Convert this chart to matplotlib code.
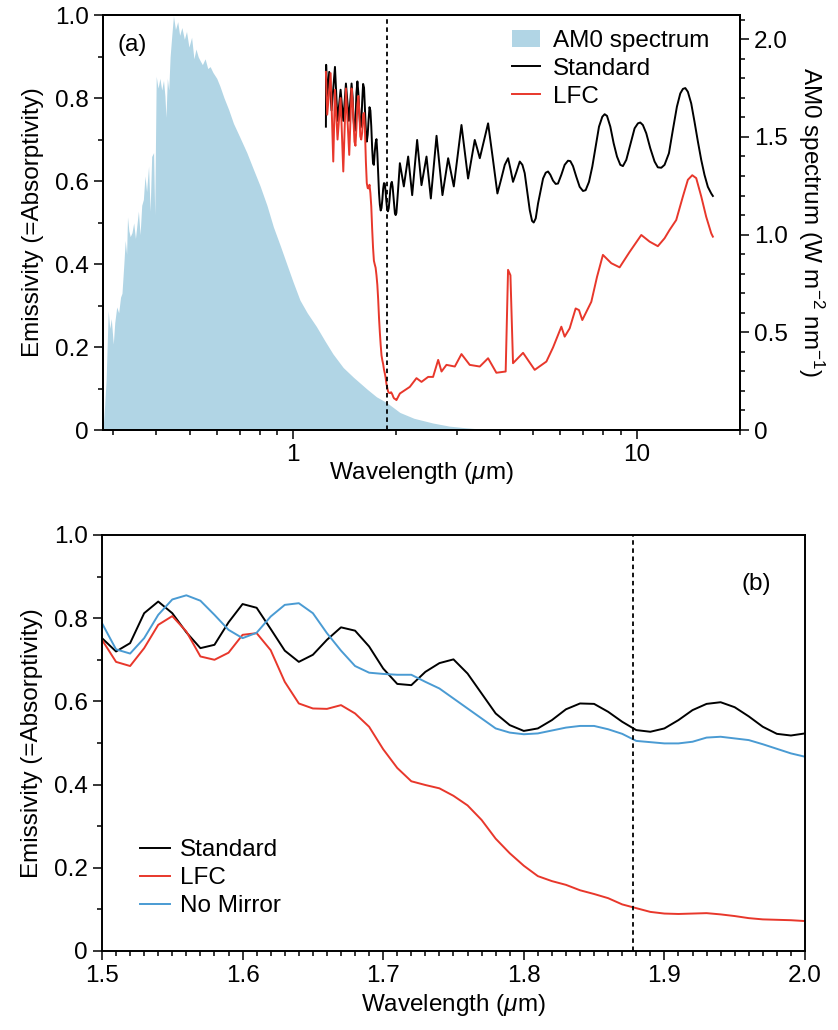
import numpy as np
import matplotlib
matplotlib.use('Agg')
import matplotlib.pyplot as plt
from matplotlib.ticker import MultipleLocator, LogLocator, NullFormatter, FuncFormatter

plt.rcParams['font.family'] = ['Liberation Sans', 'DejaVu Sans']
plt.rcParams['mathtext.fontset'] = 'custom'
plt.rcParams['mathtext.rm'] = 'Liberation Sans'
plt.rcParams['mathtext.it'] = 'Liberation Sans:italic'
plt.rcParams['font.size'] = 17.5

# AM0 solar spectrum (W m-2 nm-1)
am0_wl = [0.280, 0.283, 0.286, 0.290, 0.293, 0.296, 0.300, 0.303, 0.307, 0.311,
          0.315, 0.318, 0.322, 0.325, 0.328, 0.330, 0.333, 0.336, 0.340, 0.344,
          0.348, 0.351, 0.355, 0.359, 0.363, 0.367, 0.371, 0.375, 0.380, 0.384,
          0.388, 0.393, 0.396, 0.400, 0.405, 0.410, 0.415, 0.420, 0.424, 0.427,
          0.431, 0.435, 0.439, 0.444, 0.449, 0.455, 0.462, 0.468, 0.475, 0.483,
          0.490, 0.498, 0.507, 0.515, 0.522, 0.530, 0.537, 0.545, 0.555, 0.565,
          0.574, 0.585, 0.600, 0.613, 0.630, 0.650, 0.671, 0.700, 0.734, 0.765,
          0.802, 0.840, 0.877, 0.920, 0.959, 1.00, 1.048, 1.10, 1.17, 1.24,
          1.307, 1.40, 1.50, 1.641, 1.75, 1.876, 2.047, 2.25, 2.552, 2.85,
          3.20, 3.6, 4.0]
am0_val = [0.00, 0.12, 0.26, 0.61, 0.52, 0.57, 0.44, 0.55, 0.63, 0.60,
           0.68, 0.70, 0.85, 0.97, 0.90, 1.09, 1.02, 0.99, 1.01, 1.06,
           0.98, 1.04, 1.12, 1.00, 1.15, 1.18, 1.30, 1.22, 1.35, 1.12,
           1.40, 1.42, 1.10, 1.81, 1.75, 1.80, 1.74, 1.79, 1.71, 1.60,
           1.80, 1.74, 1.91, 2.02, 2.12, 2.05, 2.09, 2.02, 2.06, 2.00,
           2.04, 1.96, 2.01, 1.90, 1.95, 1.91, 1.89, 1.87, 1.90, 1.85,
           1.86, 1.83, 1.80, 1.76, 1.70, 1.64, 1.57, 1.50, 1.42, 1.34,
           1.25, 1.15, 1.04, 0.94, 0.85, 0.76, 0.665, 0.60, 0.53, 0.455,
           0.39, 0.32, 0.27, 0.21, 0.17, 0.14, 0.09, 0.06, 0.036, 0.02,
           0.011, 0.004, 0.0]

# emissivity, 1.25-1.5 um (panel a)
std_wl_short = [1.247, 1.249, 1.258, 1.275, 1.295, 1.325, 1.348, 1.376, 1.401,
                1.426, 1.455, 1.481, 1.492]
std_short = [0.731, 0.880, 0.800, 0.863, 0.770, 0.875, 0.745, 0.820, 0.745,
             0.835, 0.745, 0.835, 0.800]
lfc_wl_short = [1.247, 1.258, 1.287, 1.310, 1.325, 1.348, 1.376, 1.401,
                1.426, 1.458, 1.481, 1.492]
lfc_short = [0.863, 0.760, 0.860, 0.647, 0.820, 0.700, 0.800, 0.623,
             0.823, 0.663, 0.823, 0.790]

# emissivity, 1.5-2.0 um (panel b)
wl_b = [1.50, 1.51, 1.52, 1.53, 1.54, 1.55, 1.56, 1.57, 1.58, 1.59,
        1.60, 1.61, 1.62, 1.63, 1.64, 1.65, 1.66, 1.67, 1.68, 1.69,
        1.70, 1.71, 1.72, 1.73, 1.74, 1.75, 1.76, 1.77, 1.78, 1.79,
        1.80, 1.81, 1.82, 1.83, 1.84, 1.85, 1.86, 1.87, 1.88, 1.89,
        1.90, 1.91, 1.92, 1.93, 1.94, 1.95, 1.96, 1.97, 1.98, 1.99, 2.00]
std_b = [0.752, 0.720, 0.740, 0.812, 0.840, 0.812, 0.766, 0.728, 0.736, 0.790,
         0.834, 0.825, 0.774, 0.722, 0.695, 0.712, 0.748, 0.778, 0.770, 0.732,
         0.679, 0.642, 0.639, 0.671, 0.692, 0.701, 0.667, 0.619, 0.571, 0.543,
         0.529, 0.535, 0.555, 0.581, 0.595, 0.594, 0.575, 0.551, 0.531, 0.527,
         0.535, 0.555, 0.579, 0.594, 0.598, 0.586, 0.564, 0.539, 0.522, 0.518, 0.523]
lfc_b = [0.748, 0.695, 0.685, 0.728, 0.784, 0.805, 0.768, 0.708, 0.700, 0.717,
         0.760, 0.764, 0.723, 0.647, 0.595, 0.583, 0.582, 0.591, 0.571, 0.539,
         0.485, 0.440, 0.408, 0.399, 0.391, 0.373, 0.350, 0.315, 0.270, 0.235,
         0.205, 0.180, 0.168, 0.159, 0.146, 0.137, 0.127, 0.112, 0.103, 0.094,
         0.090, 0.089, 0.090, 0.091, 0.088, 0.084, 0.079, 0.076, 0.075, 0.074, 0.072]
nomirror_b = [0.788, 0.725, 0.715, 0.752, 0.808, 0.845, 0.855, 0.842, 0.808, 0.772,
              0.752, 0.765, 0.804, 0.832, 0.836, 0.812, 0.764, 0.722, 0.685, 0.669,
              0.666, 0.664, 0.664, 0.647, 0.631, 0.607, 0.583, 0.559, 0.535, 0.525,
              0.521, 0.523, 0.530, 0.537, 0.541, 0.541, 0.533, 0.522, 0.505, 0.502,
              0.499, 0.499, 0.503, 0.513, 0.515, 0.511, 0.507, 0.497, 0.486, 0.475, 0.467]

# emissivity, 2-16.7 um (panel a)
std_wl_long = [2.023, 2.047, 2.074, 2.102, 2.133, 2.164, 2.193, 2.223, 2.260, 2.298,
               2.331, 2.366, 2.406, 2.447, 2.483, 2.519, 2.567, 2.617, 2.669, 2.723,
               2.775, 2.829, 2.883, 2.938, 3.014, 3.093, 3.162, 3.233, 3.306, 3.381,
               3.440, 3.497, 3.595, 3.697, 3.815, 3.935, 4.034, 4.134, 4.227, 4.300,
               4.369, 4.470, 4.571, 4.652, 4.725, 4.800, 4.887, 4.963, 5.019, 5.087,
               5.167, 5.248, 5.343, 5.439, 5.525, 5.611, 5.712, 5.815, 5.906, 6.039,
               6.175, 6.315, 6.415, 6.530, 6.678, 6.829, 6.983, 7.108, 7.269, 7.433,
               7.601, 7.773, 7.948, 8.073, 8.201, 8.386, 8.575, 8.769, 8.967, 9.125,
               9.333, 9.585, 9.867, 10.09, 10.25, 10.43, 10.67, 10.96, 11.28, 11.53,
               11.80, 12.06, 12.42, 12.75, 13.10, 13.40, 13.64, 13.86, 14.10, 14.42,
               14.74, 15.08, 15.42, 15.76, 16.12, 16.49, 16.67]
std_long = [0.580, 0.643, 0.615, 0.587, 0.623, 0.659, 0.612, 0.566, 0.632, 0.699,
            0.645, 0.590, 0.625, 0.659, 0.608, 0.558, 0.633, 0.709, 0.638, 0.566,
            0.610, 0.655, 0.621, 0.587, 0.661, 0.735, 0.670, 0.606, 0.652, 0.699,
            0.677, 0.655, 0.697, 0.739, 0.655, 0.570, 0.604, 0.639, 0.655, 0.627,
            0.598, 0.622, 0.647, 0.639, 0.619, 0.578, 0.530, 0.504, 0.500, 0.510,
            0.546, 0.574, 0.606, 0.620, 0.623, 0.615, 0.601, 0.593, 0.594, 0.615,
            0.639, 0.649, 0.648, 0.636, 0.610, 0.586, 0.576, 0.578, 0.598, 0.635,
            0.683, 0.731, 0.755, 0.761, 0.757, 0.731, 0.691, 0.659, 0.639, 0.636,
            0.651, 0.687, 0.727, 0.739, 0.741, 0.735, 0.715, 0.679, 0.647, 0.633,
            0.632, 0.639, 0.667, 0.723, 0.779, 0.811, 0.822, 0.824, 0.815, 0.787,
            0.743, 0.695, 0.651, 0.615, 0.586, 0.570, 0.564]
lfc_wl_long = [2.047, 2.188, 2.288, 2.366, 2.474, 2.557, 2.646, 2.706, 2.797, 2.958,
               3.093, 3.269, 3.497, 3.697, 3.908, 4.159, 4.226, 4.294, 4.369, 4.673,
               5.052, 5.464, 5.713, 6.04, 6.176, 6.386, 6.648, 6.798, 6.95, 7.383,
               7.67, 7.98, 8.44, 8.925, 9.54, 10.32, 10.91, 11.53, 12.06, 12.47,
               13.04, 13.64, 14.10, 14.52, 14.91, 15.42, 15.94, 16.49, 16.67]
lfc_long = [0.088, 0.104, 0.125, 0.116, 0.128, 0.128, 0.169, 0.141, 0.157, 0.153,
            0.183, 0.157, 0.153, 0.173, 0.138, 0.141, 0.386, 0.373, 0.161, 0.186,
            0.145, 0.165, 0.199, 0.249, 0.225, 0.245, 0.293, 0.289, 0.265, 0.309,
            0.369, 0.422, 0.402, 0.392, 0.429, 0.470, 0.454, 0.443, 0.462, 0.482,
            0.506, 0.563, 0.603, 0.614, 0.607, 0.563, 0.514, 0.474, 0.466]

cut_wl = 1.878

std_a_wl = std_wl_short + wl_b + std_wl_long
std_a = std_short + std_b + std_long
lfc_a_wl = lfc_wl_short + wl_b + lfc_wl_long
lfc_a = lfc_short + lfc_b + lfc_long

c_am0 = '#b1d5e5'
c_lfc = '#e8372b'
c_nom = '#4a9bd3'

fig = plt.figure(figsize=(8.38, 10.30), dpi=100)


def style_axis(ax):
    for s in ax.spines.values():
        s.set_linewidth(1.4)
    ax.tick_params(which='major', direction='out', length=6.5, width=1.1, labelsize=17.5)
    ax.tick_params(which='minor', direction='out', length=3.5, width=1.1)


ylab = FuncFormatter(lambda v, _: '0' if abs(v) < 1e-9 else '%.1f' % v)

# ---- panel (a)
ax = fig.add_axes([0.1229, 0.5825, 0.7602, 0.4029])
ax2 = ax.twinx()
ax.set_zorder(ax2.get_zorder() + 1)
ax.patch.set_visible(False)

am = ax2.fill_between(am0_wl, am0_val, 0, color=c_am0, lw=0, label='AM0 spectrum')
l1, = ax.plot(std_a_wl, std_a, color='black', lw=1.4, label='Standard')
l2, = ax.plot(lfc_a_wl, lfc_a, color=c_lfc, lw=1.4, label='LFC')
ax.axvline(cut_wl, color='black', ls=(0, (2.5, 2)), lw=1.3)

ax.set_xscale('log')
ax.set_xlim(0.28, 20)
ax.set_ylim(0, 1)
ax2.set_ylim(0, 2.124)
ax.set_xticks([1, 10])
ax.set_xticklabels(['1', '10'])
ax.xaxis.set_minor_locator(LogLocator(base=10, subs=np.arange(2, 10)))
ax.xaxis.set_minor_formatter(NullFormatter())
ax.yaxis.set_major_locator(MultipleLocator(0.2))
ax.yaxis.set_minor_locator(MultipleLocator(0.1))
ax.yaxis.set_major_formatter(ylab)
ax2.yaxis.set_major_locator(MultipleLocator(0.5))
ax2.yaxis.set_minor_locator(MultipleLocator(0.1))
ax2.yaxis.set_major_formatter(ylab)
style_axis(ax)
style_axis(ax2)
ax.set_xlabel(r'Wavelength ($\mu$m)', labelpad=-4)
ax.set_ylabel('Emissivity (=Absorptivity)', labelpad=8)
ax2.set_ylabel(r'AM0 spectrum (W m$^{-2}$ nm$^{-1}$)', rotation=270, labelpad=28)
ax.text(0.022, 0.928, '(a)', transform=ax.transAxes, fontsize=17.5, va='center')
ax.legend([am, l1, l2], ['AM0 spectrum', 'Standard', 'LFC'], loc='upper right',
          bbox_to_anchor=(0.978, 1.006), frameon=False, handlelength=1.15,
          handletextpad=0.53, labelspacing=0.25, borderaxespad=0.3)

# ---- panel (b)
bx = fig.add_axes([0.1217, 0.0767, 0.8389, 0.4039])
b1, = bx.plot(wl_b, std_b, color='black', lw=1.4, label='Standard')
b2, = bx.plot(wl_b, lfc_b, color=c_lfc, lw=1.4, label='LFC')
b3, = bx.plot(wl_b, nomirror_b, color=c_nom, lw=1.4, label='No Mirror')
bx.axvline(cut_wl, color='black', ls=(0, (2.5, 2)), lw=1.3)
bx.set_xlim(1.5, 2.0)
bx.set_ylim(0, 1)
bx.xaxis.set_major_locator(MultipleLocator(0.1))
bx.xaxis.set_minor_locator(MultipleLocator(0.01))
bx.xaxis.set_major_formatter(FuncFormatter(lambda v, _: '%.1f' % v))
bx.yaxis.set_major_locator(MultipleLocator(0.2))
bx.yaxis.set_minor_locator(MultipleLocator(0.1))
bx.yaxis.set_major_formatter(ylab)
style_axis(bx)
bx.set_xlabel(r'Wavelength ($\mu$m)')
bx.set_ylabel('Emissivity (=Absorptivity)', labelpad=8)
bx.text(0.91, 0.882, '(b)', transform=bx.transAxes, fontsize=17.5, va='center')
bx.legend(loc='lower left', bbox_to_anchor=(0.03, 0.04), frameon=False,
          handlelength=1.25, handletextpad=0.4, labelspacing=0.25, borderaxespad=0.3)

fig.savefig('out.png', dpi=100)
